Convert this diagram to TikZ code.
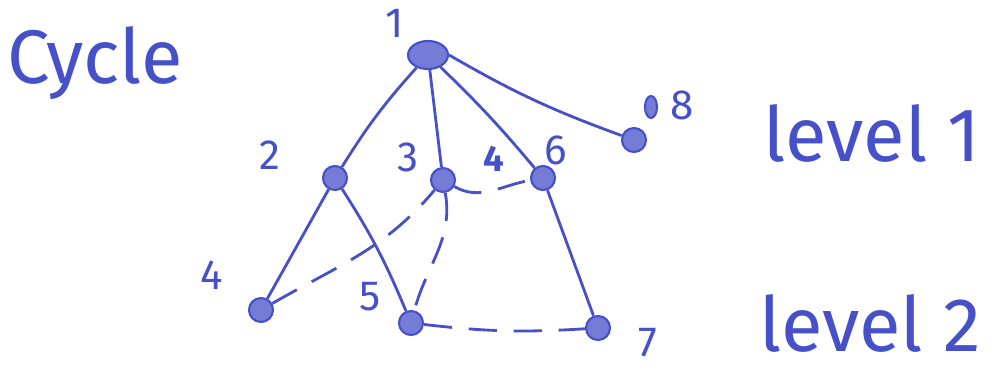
\documentclass[tikz,border=0pt]{standalone}
\usepackage{fontspec}
\setmainfont{Fira Sans}
\usetikzlibrary{shapes.geometric}
\definecolor{penblue}{RGB}{70,80,200}
\tikzstyle{vertex} = [
    circle,
    minimum size=0.6cm,
    inner sep=0pt,
    draw=penblue,
    line width=1.5pt,
    fill=penblue!75
]
\tikzstyle{rootvertex} = [
    ellipse,
    minimum width=1.0cm,
    minimum height=0.7cm,
    inner sep=0pt,
    draw=penblue,
    line width=1.5pt,
    fill=penblue!75
]
\tikzstyle{tag} = [
    text=penblue,
    font=\fontsize{30}{32}\selectfont
]
\tikzstyle{heading} = [
    text=penblue,
    font=\fontsize{54}{58}\selectfont
]
\tikzstyle{treeline} = [draw=penblue, line width=2pt]
\tikzstyle{crossline} = [treeline, dash pattern=on 20pt off 12pt]

\begin{document}
\begin{tikzpicture}[x=0.025cm, y=0.025cm]
\useasboundingbox (0,0) rectangle (996,381);

\node (v1) [rootvertex] at (428,326) {};
\node (v2) [vertex] at (335,203) {};
\node (v3) [vertex] at (443,201) {};
\node (v6) [vertex] at (543,203) {};
\node (v8) [vertex] at (634,241) {};
\node (v4) [vertex] at (261,71) {};
\node (v5) [vertex] at (411,58) {};
\node (v7) [vertex] at (598,53) {};

\node (t1) [tag] at (395,358) {1};
\node (t2) [tag] at (270,226) {2};
\node (t3) [tag] at (408,224) {3};
\node (t4x) [tag, font=\fontsize{26}{28}\bfseries] at (494,222) {4};
\node (t6) [tag] at (556,231) {6};
\node (blot) [ellipse, minimum width=0.3cm, minimum height=0.55cm,
    inner sep=0pt, draw=penblue, line width=1.5pt, fill=penblue!75]
    at (651,274) {};
\node (t8) [tag] at (682,276) {8};
\node (t4) [tag] at (212,106) {4};
\node (t5) [tag] at (370,84) {5};
\node (t7) [tag] at (648,38) {7};

\node (cycle) [heading] at (95,318) {Cycle};
\node (lev1) [heading] at (872,248) {level 1};
\node (lev2) [heading] at (870,58) {level 2};

\draw [treeline] (v1) to[bend right=5] (v2);
\draw [treeline] (v1) -- (v3);
\draw [treeline] (v1) to[bend left=3] (v6);
\draw [treeline] (v1.east) to[bend right=5] (v8);
\draw [treeline] (v2) -- (v4);
\draw [treeline] (v2) to[bend left=5] (v5);
\draw [treeline] (v6) -- (v7);

\draw [crossline] (v4) to[out=30, in=230] (v3);
\draw [crossline] (v3) to[out=-80, in=75] (v5);
\draw [crossline] (v3) to[out=-30, in=190] (v6);
\draw [crossline] (v5) to[bend right=5] (v7);

\end{tikzpicture}
\end{document}
